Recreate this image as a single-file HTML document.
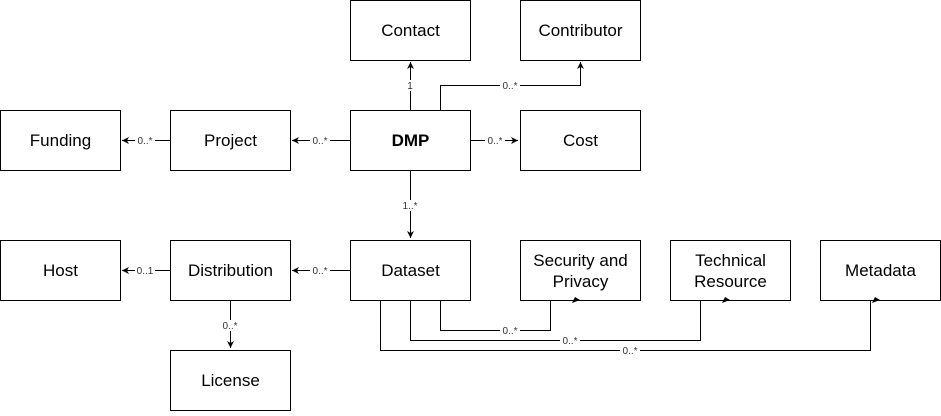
<!DOCTYPE html>
<html><head><style>body{margin:0;background:#fff}</style></head><body>
<svg width="941" height="411" xmlns="http://www.w3.org/2000/svg" font-family="Liberation Sans, sans-serif">
<defs><marker id="a" markerWidth="8" markerHeight="8" refX="7" refY="4" orient="auto" markerUnits="userSpaceOnUse"><path d="M0,0.5 L7,4 L0,7.5 L2,4 Z" fill="#000"/></marker></defs>
<g fill="#fff" stroke="#000" stroke-width="1">
<rect x="350.5" y="0.5" width="120" height="60"/>
<rect x="520.5" y="0.5" width="120" height="60"/>
<rect x="0.5" y="110.5" width="120" height="60"/>
<rect x="170.5" y="110.5" width="120" height="60"/>
<rect x="350.5" y="110.5" width="120" height="60"/>
<rect x="520.5" y="110.5" width="120" height="60"/>
<rect x="0.5" y="240.5" width="120" height="60"/>
<rect x="170.5" y="240.5" width="120" height="60"/>
<rect x="350.5" y="240.5" width="120" height="60"/>
<rect x="520.5" y="240.5" width="120" height="60"/>
<rect x="670.5" y="240.5" width="120" height="60"/>
<rect x="820.5" y="240.5" width="120" height="60"/>
<rect x="170.5" y="350.5" width="120" height="60"/>
</g>
<g fill="none" stroke="#000" stroke-width="1">
<path d="M410.5 110V62" marker-end="url(#a)"/>
<path d="M440.5 110V85.5H580.5V62" marker-end="url(#a)"/>
<path d="M350 140.5H292" marker-end="url(#a)"/>
<path d="M170 140.5H122" marker-end="url(#a)"/>
<path d="M470 140.5H518" marker-end="url(#a)"/>
<path d="M410.5 170V238" marker-end="url(#a)"/>
<path d="M350 270.5H292" marker-end="url(#a)"/>
<path d="M170 270.5H122" marker-end="url(#a)"/>
<path d="M230.5 300V348" marker-end="url(#a)"/>
<path d="M440.5 300V330.5H550.5V300"/>
<path d="M410.5 300V340.5H700.5V300"/>
<path d="M380.5 300V350.5H870.5V300"/>
</g>
<g fill="#000"><path d="M572 303L580 300L575 297Z"/><path d="M722 303L730 300L725 297Z"/><path d="M872 303L880 300L875 297Z"/></g>
<g font-size="10" fill="#333" text-anchor="middle">
<rect x="405" y="80" width="10" height="11" fill="#fff"/><text x="410" y="89">1</text>
<rect x="500" y="80" width="20" height="11" fill="#fff"/><text x="510" y="89">0..*</text>
<rect x="310" y="135" width="20" height="11" fill="#fff"/><text x="320" y="144">0..*</text>
<rect x="135" y="135" width="20" height="11" fill="#fff"/><text x="145" y="144">0..*</text>
<rect x="485" y="135" width="20" height="11" fill="#fff"/><text x="495" y="144">0..*</text>
<rect x="400" y="200" width="20" height="11" fill="#fff"/><text x="410" y="209">1..*</text>
<rect x="310" y="265" width="20" height="11" fill="#fff"/><text x="320" y="274">0..*</text>
<rect x="135" y="265" width="20" height="11" fill="#fff"/><text x="145" y="274">0..1</text>
<rect x="220" y="320" width="20" height="11" fill="#fff"/><text x="230" y="329">0..*</text>
<rect x="500" y="325" width="20" height="11" fill="#fff"/><text x="510" y="334">0..*</text>
<rect x="560" y="335" width="20" height="11" fill="#fff"/><text x="570" y="344">0..*</text>
<rect x="620" y="345" width="20" height="11" fill="#fff"/><text x="630" y="354">0..*</text>
</g>
<g font-size="17" fill="#000" text-anchor="middle">
<text x="410.5" y="36">Contact</text>
<text x="580.5" y="36">Contributor</text>
<text x="60.5" y="146">Funding</text>
<text x="230.5" y="146">Project</text>
<text x="410.5" y="146" font-weight="bold">DMP</text>
<text x="580.5" y="146">Cost</text>
<text x="60.5" y="276">Host</text>
<text x="230.5" y="276">Distribution</text>
<text x="410.5" y="276">Dataset</text>
<text x="580.5" y="266">Security and</text>
<text x="580.5" y="287">Privacy</text>
<text x="730.5" y="266">Technical</text>
<text x="730.5" y="287">Resource</text>
<text x="880.5" y="276">Metadata</text>
<text x="230.5" y="386">License</text>
</g>
</svg>
</body></html>
